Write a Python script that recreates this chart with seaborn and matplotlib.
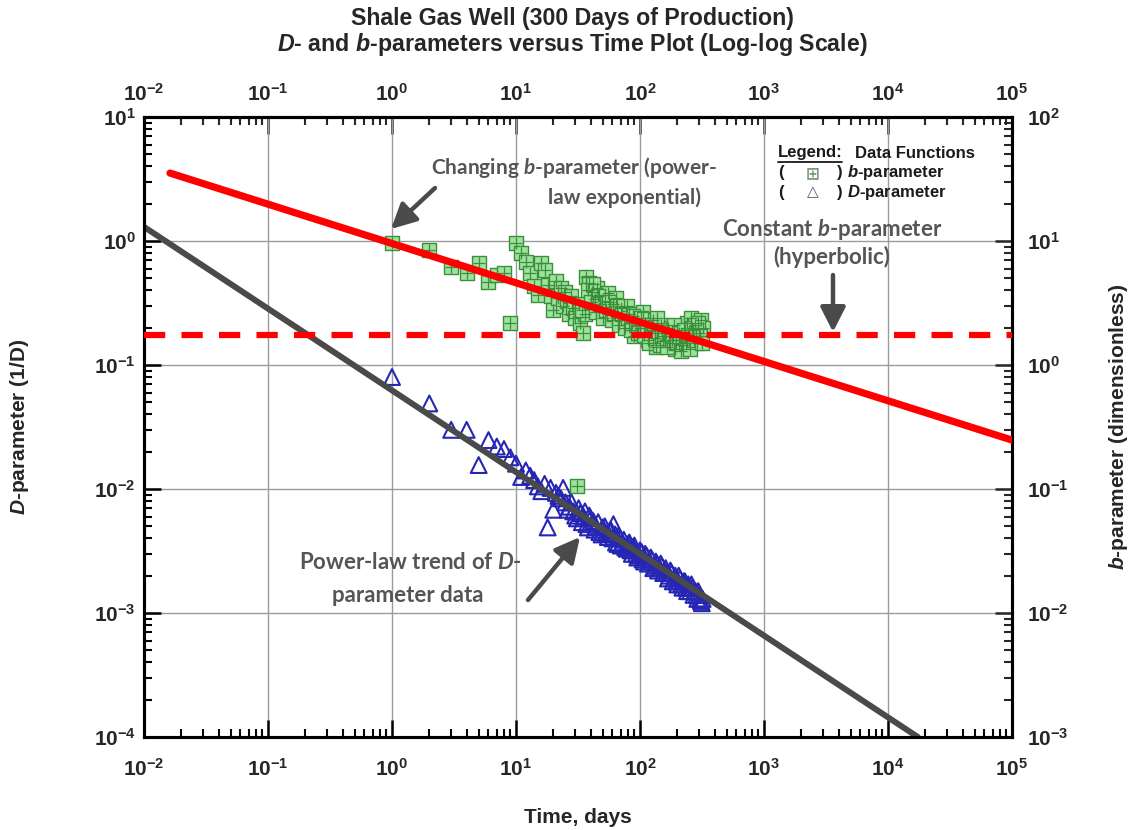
import numpy as np
import pandas as pd
import matplotlib
matplotlib.use("Agg")
import matplotlib.pyplot as plt
import matplotlib.patches as mpatches
import seaborn as sns
from matplotlib.ticker import LogLocator, NullFormatter
from matplotlib.font_manager import fontManager

# ---------------- data ----------------
b_days = [1, 2, 3, 4, 5, 6, 7, 8, 9, 10, 11, 12, 13, 14, 15, 16, 17, 18, 19, 20,
          21, 22, 23, 24, 25, 26, 27, 28, 29, 30, 31, 32, 33, 35, 36, 37, 39, 41, 43, 45,
          47, 49, 52, 55, 58, 61, 64, 67, 70, 74, 78, 82, 86, 90, 95, 100, 105, 110, 116, 122,
          128, 134, 140, 147, 154, 161, 168, 176, 184, 192, 200, 210, 220, 230, 240, 250, 260, 270, 280, 290,
          300, 310, 320,
          34, 38, 40, 42, 44, 46, 48, 50, 53, 56, 59, 62, 65, 68, 72, 76, 80, 84, 88, 92,
          97, 102, 107, 113, 119, 125, 131, 137, 144, 150, 157, 164, 172, 180, 188, 196, 205, 215, 225, 235,
          245, 255, 265, 275, 285, 295, 305, 315]
b_values = [9.7, 8.5, 6.2, 5.5, 6.6, 4.7, 5.3, 5.5, 2.2, 9.6, 8.0, 6.8, 5.5, 4.3, 3.7, 6.6, 5.8, 4.4, 3.6, 2.8,
            4.8, 3.5, 4.2, 3.0, 3.9, 3.3, 2.6, 3.6, 2.9, 2.4, 0.105, 3.1, 2.2, 1.8, 2.6, 5.1, 4.6, 3.9, 3.4, 4.2,
            3.7, 2.9, 3.3, 3.8, 2.7, 3.1, 3.5, 2.5, 2.9, 2.3, 3.0, 2.6, 2.2, 1.7, 2.4, 2.0, 2.7, 2.2, 1.6, 1.9,
            2.3, 1.4, 1.8, 2.1, 1.55, 1.8, 2.0, 1.5, 1.7, 1.35, 1.9, 1.6, 1.45, 1.7, 2.2, 1.6, 2.4, 1.9, 2.1, 1.5,
            1.8, 2.3, 2.0,
            2.8, 4.0, 3.2, 4.5, 2.7, 3.6, 3.1, 2.4, 2.8, 3.2, 2.3, 2.6, 3.0, 2.1, 2.6, 2.0, 2.4, 1.9, 2.5, 2.1,
            1.8, 2.4, 1.75, 2.0, 1.5, 2.1, 1.65, 2.4, 1.45, 1.9, 1.7, 1.4, 1.85, 1.6, 2.1, 1.5, 1.8, 1.3, 1.9, 1.5,
            1.75, 1.35, 2.0, 1.6, 1.8, 2.2, 1.7, 1.5]

d_days = [1, 2, 3, 4, 5, 6, 7, 8, 9, 10, 11, 12, 13, 14, 15, 16, 17, 18, 19, 20,
          21, 22, 23, 24, 25, 26, 28, 30, 32, 34, 36, 38, 40, 43, 46, 49, 52, 55, 58, 61,
          64, 67, 70, 74, 78, 82, 86, 90, 95, 100, 105, 110, 116, 122, 128, 134, 140, 147, 154, 161,
          168, 176, 184, 192, 200, 210, 220, 230, 240, 250, 260, 270, 280, 290, 300, 310, 320,
          27, 29, 31, 33, 35, 37, 39, 42, 44, 47, 50, 53, 57, 60, 63, 66, 69, 72, 76, 80,
          84, 88, 93, 98, 103, 108, 113, 119, 125, 131, 137, 144, 150, 157, 164, 172, 180, 188, 196, 205,
          215, 225, 235, 245, 255, 265, 275, 285, 295, 305, 315]
d_values = [0.080, 0.049, 0.030, 0.030, 0.0156, 0.0248, 0.022, 0.021, 0.018, 0.016, 0.0125, 0.0141, 0.0128, 0.0118, 0.0105, 0.0096, 0.0110, 0.0049, 0.0102, 0.0068,
            0.0093, 0.0088, 0.0084, 0.0102, 0.0078, 0.0068, 0.0078, 0.0061, 0.0070, 0.0054, 0.0066, 0.0049, 0.0058, 0.0047, 0.0054, 0.0043, 0.0050, 0.0041, 0.0047, 0.0052,
            0.0037, 0.0042, 0.0035, 0.0039, 0.0033, 0.0037, 0.0030, 0.0035, 0.0028, 0.0032, 0.0027, 0.0030, 0.0025, 0.0028, 0.0023, 0.0026, 0.0022, 0.0025, 0.0021, 0.0023,
            0.0019, 0.0022, 0.0018, 0.0020, 0.0017, 0.0019, 0.0016, 0.0018, 0.0015, 0.0016, 0.0017, 0.0014, 0.0015, 0.0013, 0.0014, 0.00125, 0.0013,
            0.0072, 0.0066, 0.0058, 0.0064, 0.0060, 0.0052, 0.0061, 0.0055, 0.0050, 0.0045, 0.0049, 0.0044, 0.0046, 0.0040, 0.0043, 0.0036, 0.0040, 0.0037, 0.0034, 0.0036,
            0.0032, 0.0034, 0.0030, 0.0029, 0.0031, 0.0026, 0.0029, 0.0026, 0.0027, 0.0024, 0.0025, 0.0023, 0.0024, 0.0022, 0.0021, 0.0020, 0.0021, 0.0019, 0.0018, 0.0020,
            0.0017, 0.0018, 0.0016, 0.0017, 0.0015, 0.0016, 0.0015, 0.0014, 0.0015, 0.0013, 0.0012]

b_trend_days = [0.0162, 1e5]
b_trend_values = [35.3, 0.248]
b_const_days = [1e-2, 1e5]
b_const_values = [1.75, 1.75]
d_trend_days = [1e-2, 1.74e4]
d_trend_values = [1.30, 1e-4]

x_ticks = [1e-2, 1e-1, 1e0, 1e1, 1e2, 1e3, 1e4, 1e5]
x_labels = ["$10^{-2}$", "$10^{-1}$", "$10^{0}$", "$10^{1}$", "$10^{2}$", "$10^{3}$", "$10^{4}$", "$10^{5}$"]
d_ticks = [1e-4, 1e-3, 1e-2, 1e-1, 1e0, 1e1]
d_labels = ["$10^{-4}$", "$10^{-3}$", "$10^{-2}$", "$10^{-1}$", "$10^{0}$", "$10^{1}$"]
b_ticks = [1e-3, 1e-2, 1e-1, 1e0, 1e1, 1e2]
b_labels = ["$10^{-3}$", "$10^{-2}$", "$10^{-1}$", "$10^{0}$", "$10^{1}$", "$10^{2}$"]

# ---------------- style ----------------
sns.set_style("white")
names = {f.name for f in fontManager.ttflist}
narrow = "Liberation Sans Narrow" if "Liberation Sans Narrow" in names else "Liberation Sans"
plt.rcParams["font.family"] = [narrow, "Liberation Sans", "DejaVu Sans"]
plt.rcParams["font.weight"] = "bold"
plt.rcParams["mathtext.fontset"] = "custom"
plt.rcParams["mathtext.bf"] = "Liberation Sans:bold"
plt.rcParams["mathtext.rm"] = "Liberation Sans:bold"
plt.rcParams["mathtext.sf"] = "Liberation Sans:bold:italic"
plt.rcParams["mathtext.it"] = "Lato:bold:italic"
plt.rcParams["mathtext.default"] = "bf"

W, H = 1137, 830
def fp(x, y):
    return (x / W, 1 - y / H)

fig = plt.figure(figsize=(11.37, 8.30), dpi=100)
ax = fig.add_axes([144 / W, 1 - 737 / H, (1012 - 144) / W, (737 - 117) / H])
ax2 = ax.twinx()
for a in (ax, ax2):
    a.set_yscale("log")
ax.set_xscale("log")
ax.set_xlim(1e-2, 1e5)
ax.set_ylim(1e-4, 1e1)
ax2.set_ylim(1e-3, 1e2)

ax.grid(True, which="major", color="#9c9c9c", lw=1.0)
ax.set_axisbelow(True)

# D-parameter data and trend (left axis)
d_df = pd.DataFrame({"days": d_days, "D": d_values})
sns.scatterplot(data=d_df, x="days", y="D", ax=ax, marker="^", s=130, linewidth=1.5, zorder=3, legend=False)
pts = ax.collections[-1]
pts.set_facecolor("none")
pts.set_edgecolor("#2626b4")

dt_df = pd.DataFrame({"days": d_trend_days, "D": d_trend_values})
sns.lineplot(data=dt_df, x="days", y="D", ax=ax, color="#4a4a4a", lw=4.3, sort=False, zorder=4)

# b-parameter data and trends (right axis)
b_df = pd.DataFrame({"days": b_days, "b": b_values})
sns.scatterplot(data=b_df, x="days", y="b", ax=ax2, marker="s", s=95, color="#9ee29e",
                edgecolor="#3a8f3a", linewidth=1.0, zorder=3, legend=False)
sns.scatterplot(data=b_df, x="days", y="b", ax=ax2, marker="+", s=70, color="#3a8f3a",
                linewidth=0.9, zorder=3.1, legend=False)

bc_df = pd.DataFrame({"days": b_const_days, "b": b_const_values})
sns.lineplot(data=bc_df, x="days", y="b", ax=ax2, color="#ff0000", lw=4.5, sort=False, zorder=4)
ax2.lines[-1].set_linestyle((0, (3.4, 2.6)))
bt_df = pd.DataFrame({"days": b_trend_days, "b": b_trend_values})
sns.lineplot(data=bt_df, x="days", y="b", ax=ax2, color="#ff0000", lw=5.2, sort=False, zorder=5)

# ticks
ax.set_xticks(x_ticks, x_labels)
ax.set_yticks(d_ticks, d_labels)
ax2.set_yticks(b_ticks, b_labels)
minor = lambda: LogLocator(base=10, subs=np.arange(2, 10), numticks=20)
ax.xaxis.set_minor_locator(minor())
ax.yaxis.set_minor_locator(minor())
ax2.yaxis.set_minor_locator(minor())
ax.xaxis.set_minor_formatter(NullFormatter())
ax.yaxis.set_minor_formatter(NullFormatter())
ax2.yaxis.set_minor_formatter(NullFormatter())

ax.tick_params(which="major", direction="in", length=12, width=1.8, labelsize=15, color="black")
ax.tick_params(which="minor", direction="in", length=6, width=1.5, color="black")
ax.tick_params(axis="x", which="both", top=False, bottom=True, labeltop=False, labelbottom=True, pad=15)
ax.tick_params(axis="y", which="both", left=True, right=False, pad=6)
ax2.tick_params(which="major", direction="in", length=12, width=1.8, labelsize=15, pad=11)
ax2.tick_params(which="minor", direction="in", length=6, width=1.5)

top = ax.secondary_xaxis("top")
top.set_xticks(x_ticks, x_labels)
top.xaxis.set_minor_locator(minor())
top.xaxis.set_minor_formatter(NullFormatter())
top.tick_params(which="major", direction="in", length=12, width=1.8, labelsize=15, pad=9)
top.tick_params(which="minor", direction="in", length=6, width=1.5)

for a in (ax, ax2, top):
    for s in a.spines.values():
        s.set_linewidth(2.2)
        s.set_color("black")

ax.set_xlabel("Time, days", fontsize=15, fontweight="bold", family="Liberation Sans")
ax.xaxis.set_label_coords(0.5, -0.115)
ax.set_ylabel(r"$\mathsf{D}$-parameter (1/D)", fontsize=15, fontweight="bold", family="Liberation Sans")
ax.yaxis.set_label_coords(-0.13, 0.5)
ax2.set_ylabel(r"$\mathsf{b}$-parameter (dimensionless)", fontsize=15, fontweight="bold", family="Liberation Sans")
ax2.yaxis.set_label_coords(1.109, 0.5)

# title
fig.text(*fp(572, 18), "Shale Gas Well (300 Days of Production)", ha="center", va="center",
         fontsize=16.7, fontweight="bold")
fig.text(*fp(572, 45), r"$\mathsf{D}$- and $\mathsf{b}$-parameters versus Time Plot (Log-log Scale)",
         ha="center", va="center", fontsize=16.7, fontweight="bold")

# legend (text based)
lg = dict(fontsize=12, fontweight="bold", family="Liberation Sans", va="center", color="#1a1a1a")
fig.text(*fp(778, 153), "Legend:", ha="left", **lg)
fig.add_artist(plt.Line2D([778 / W, 842 / W], [1 - 162 / H, 1 - 162 / H], color="#1a1a1a", lw=1.3))
fig.text(*fp(855, 153), "Data Functions", ha="left", **lg)
fig.text(*fp(778, 173), "(", ha="left", **lg)
fig.text(*fp(837, 173), ")", ha="left", **lg)
fig.text(*fp(778, 193), "(", ha="left", **lg)
fig.text(*fp(837, 193), ")", ha="left", **lg)
fig.text(*fp(847, 173), r"$\mathsf{b}$-parameter", ha="left", **lg)
fig.text(*fp(847, 193), r"$\mathsf{D}$-parameter", ha="left", **lg)
fig.text(*fp(813, 173), "\u229e", ha="center", va="center", fontsize=12, family="DejaVu Sans", color="#7a9a7a")
fig.text(*fp(813, 192), "\u25b3", ha="center", va="center", fontsize=11, family="DejaVu Sans", color="#555566")

# annotations
an = dict(fontweight="bold", family="Lato", color="#555555", va="center")
fig.text(*fp(431, 168), r"Changing $\mathit{b}$-parameter (power-", ha="left", fontsize=15, **an)
fig.text(*fp(548, 198), "law exponential)", ha="left", fontsize=15, **an)
fig.text(*fp(832, 230), r"Constant $\mathit{b}$-parameter", ha="center", fontsize=16, **an)
fig.text(*fp(832, 257), "(hyperbolic)", ha="center", fontsize=16, **an)
fig.text(*fp(522, 562), r"Power-law trend of $\mathit{D}$-", ha="right", fontsize=16, **an)
fig.text(*fp(484, 595), "parameter data", ha="right", fontsize=16, **an)

arrow = dict(arrowstyle="-|>,head_length=0.75,head_width=0.38", lw=3.2, color="#4a4a4a",
             mutation_scale=20, shrinkA=0, shrinkB=0)
fig.add_artist(mpatches.FancyArrowPatch(fp(435, 188), fp(391, 229), transform=fig.transFigure, **arrow))
fig.add_artist(mpatches.FancyArrowPatch(fp(833, 275), fp(833, 332), transform=fig.transFigure, **arrow))
fig.add_artist(mpatches.FancyArrowPatch(fp(528, 600), fp(580, 537), transform=fig.transFigure, **arrow))

fig.savefig("out.png", dpi=100)
